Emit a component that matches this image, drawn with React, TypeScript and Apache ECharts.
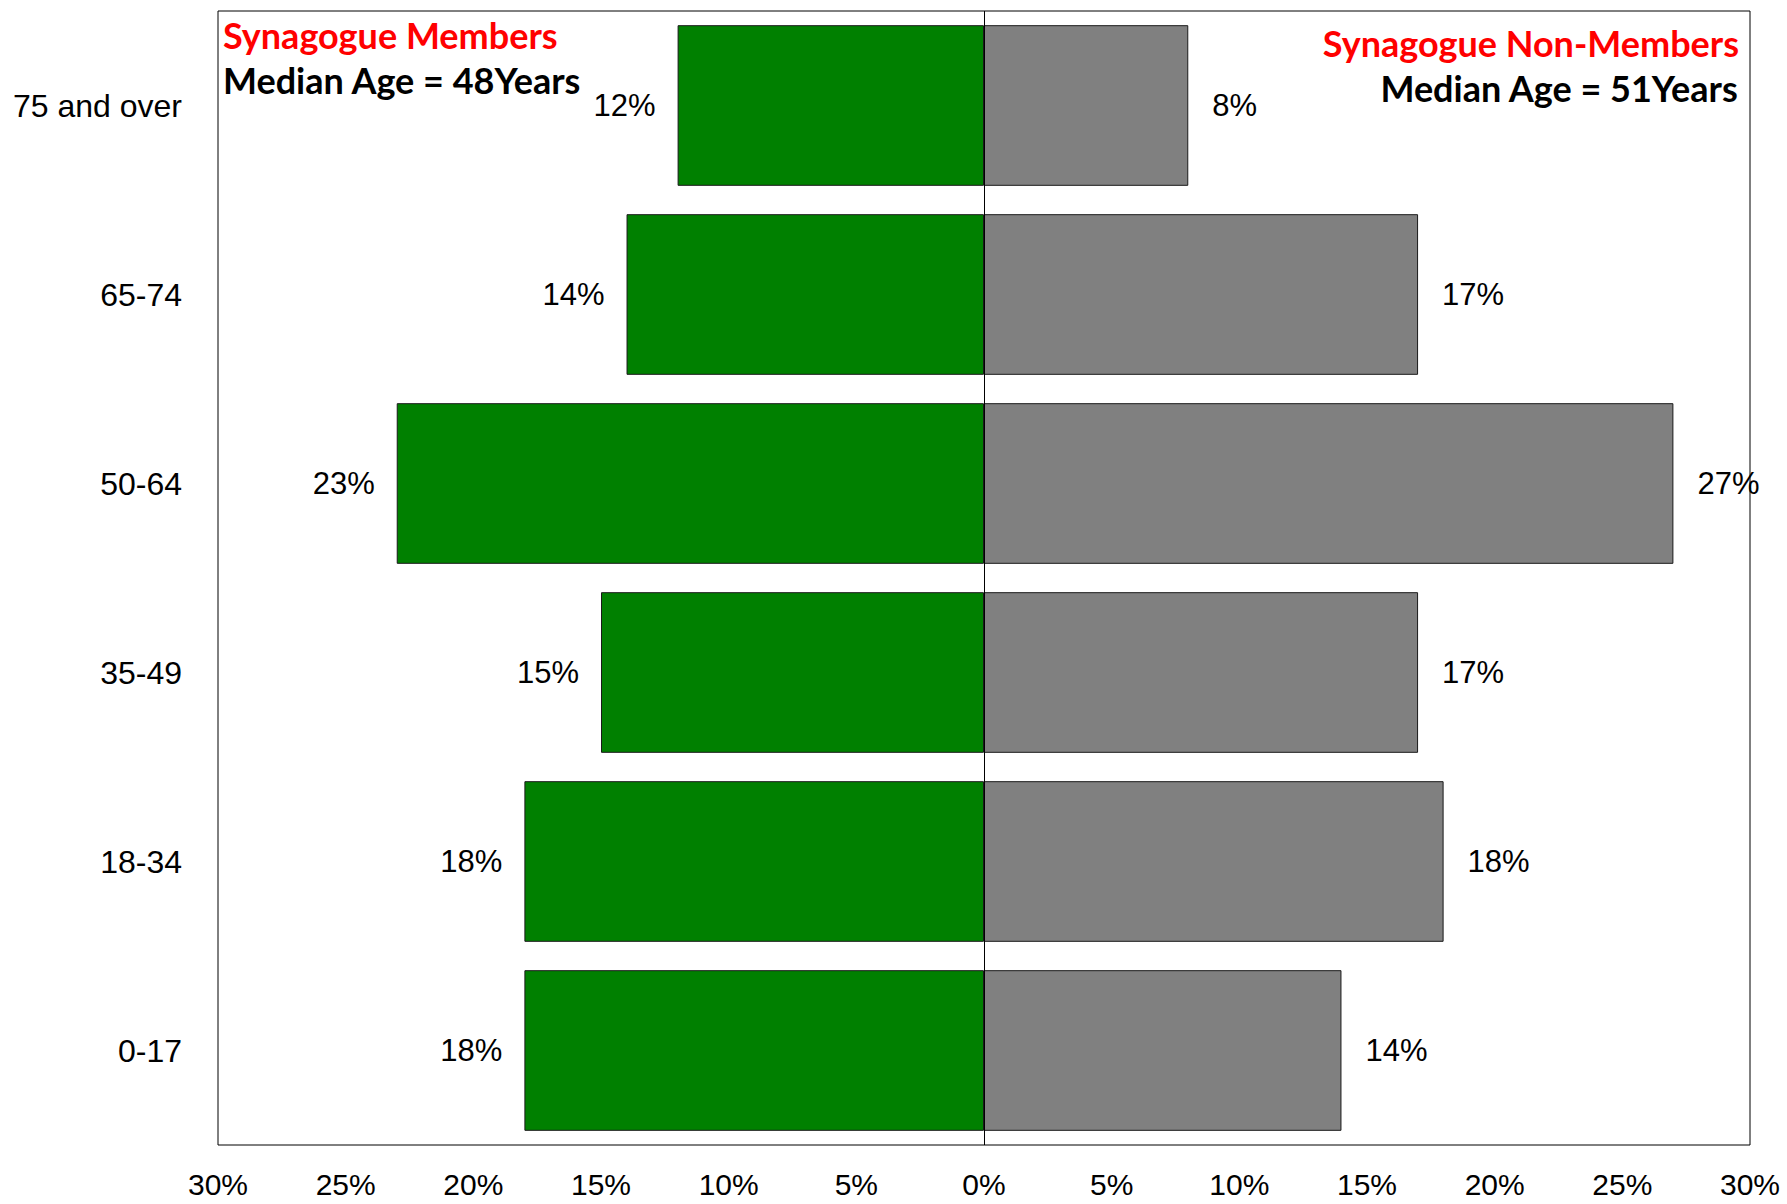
import React, { useEffect, useRef } from "react";
import * as echarts from "echarts";

const categories = ["0-17", "18-34", "35-49", "50-64", "65-74", "75 and over"];
const members = [18, 18, 15, 23, 14, 12];
const nonMembers = [14, 18, 17, 27, 17, 8];
const leftTitle = "Synagogue Members";
const leftMedian = "Median Age = 48Years";
const rightTitle = "Synagogue Non-Members";
const rightMedian = "Median Age = 51Years";

export default function App() {
  const ref = useRef<HTMLDivElement>(null);
  useEffect(() => {
    document.body.style.margin = "0";
    const chart = echarts.init(ref.current!, null, { renderer: "svg" });
    const labelFont = { fontFamily: "Liberation Sans, Arial, sans-serif", fontSize: 31, color: "#000" };
    const annFont = "bold 36px Lato, 'Open Sans', sans-serif";
    chart.setOption({
      animation: false,
      backgroundColor: "#fff",
      grid: {
        left: 218,
        right: 37,
        top: 11,
        bottom: 59,
        show: true,
        borderColor: "#000",
        borderWidth: 1,
        backgroundColor: "transparent",
      },
      xAxis: {
        type: "value",
        min: -30,
        max: 30,
        interval: 5,
        axisLine: { show: false },
        axisTick: { show: false },
        splitLine: { show: false },
        axisLabel: {
          formatter: (v: number) => Math.abs(v) + "%",
          fontFamily: "Liberation Sans Narrow, Arial Narrow, Liberation Sans, sans-serif",
          fontSize: 30,
          lineHeight: 30,
          color: "#000",
          margin: 24,
        },
      },
      yAxis: {
        type: "category",
        data: categories,
        axisLine: { show: false },
        axisTick: { show: false },
        axisLabel: { ...labelFont, fontSize: 32, margin: 36 },
      },
      series: [
        {
          name: "Members",
          type: "bar",
          stack: "total",
          barCategoryGap: "15%",
          data: members.map((v) => -v),
          itemStyle: { color: "#008000", borderColor: "#1a1a1a", borderWidth: 1 },
          label: {
            show: true,
            position: "left",
            distance: 22,
            formatter: (p: any) => Math.abs(p.value) + "%",
            ...labelFont,
          },
          markLine: {
            silent: true,
            symbol: "none",
            label: { show: false },
            lineStyle: { color: "#000", width: 1, type: "solid" },
            data: [{ xAxis: 0 }],
          },
        },
        {
          name: "Non-Members",
          type: "bar",
          stack: "total",
          barCategoryGap: "15%",
          data: nonMembers,
          itemStyle: { color: "#808080", borderColor: "#1a1a1a", borderWidth: 1 },
          label: {
            show: true,
            position: "right",
            distance: 24,
            formatter: (p: any) => p.value + "%",
            ...labelFont,
          },
        },
      ],
      graphic: [
        {
          type: "text",
          left: 223,
          top: 17,
          style: { text: leftTitle, fill: "#ff0000", font: annFont },
        },
        {
          type: "text",
          left: 223,
          top: 62,
          style: { text: leftMedian, fill: "#000", font: annFont },
        },
        {
          type: "text",
          right: 48,
          top: 25,
          style: { text: rightTitle, fill: "#ff0000", font: annFont },
        },
        {
          type: "text",
          right: 48,
          top: 70,
          style: { text: rightMedian, fill: "#000", font: annFont },
        },
      ],
    });
    return () => chart.dispose();
  }, []);
  return <div ref={ref} style={{ width: 1787, height: 1204 }} />;
}
